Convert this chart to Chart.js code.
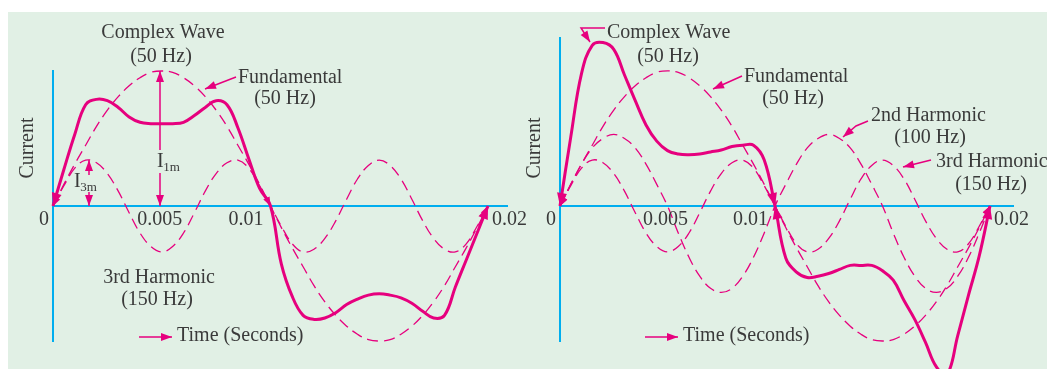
<!DOCTYPE html>
<html>
<head>
<meta charset="utf-8">
<script src="https://cdn.jsdelivr.net/npm/chart.js@4"></script>
<style>
  html, body { margin: 0; padding: 0; background: #fff; }
  #wrap { position: relative; width: 1047px; height: 369px; overflow: hidden; }
  #bg { position: absolute; left: 8px; top: 12px; right: 0; bottom: 0; background: #e1f0e5; }
  canvas { position: absolute; left: 0; top: 0; }
</style>
</head>
<body>
<div id="wrap">
  <div id="bg"></div>
  <canvas id="leftChart" width="1047" height="369"></canvas>
  <canvas id="rightChart" width="1047" height="369"></canvas>
</div>
<script>
// time in seconds, one cycle of 50 Hz
const time = [0, 0.0005, 0.001, 0.0015, 0.002, 0.0025, 0.003, 0.0035, 0.004, 0.0045,
  0.005, 0.0055, 0.006, 0.0065, 0.007, 0.0075, 0.008, 0.0085, 0.009, 0.0095,
  0.01, 0.0105, 0.011, 0.0115, 0.012, 0.0125, 0.013, 0.0135, 0.014, 0.0145,
  0.015, 0.0155, 0.016, 0.0165, 0.017, 0.0175, 0.018, 0.0185, 0.019, 0.0195, 0.02];

// currents (fundamental peak = 1)
const fundamental = [0, 0.16, 0.31, 0.45, 0.59, 0.71, 0.81, 0.89, 0.95, 0.99,
  1.00, 0.99, 0.95, 0.89, 0.81, 0.71, 0.59, 0.45, 0.31, 0.16,
  0, -0.16, -0.31, -0.45, -0.59, -0.71, -0.81, -0.89, -0.95, -0.99,
  -1.00, -0.99, -0.95, -0.89, -0.81, -0.71, -0.59, -0.45, -0.31, -0.16, 0];

const thirdHarmonic = [0, 0.15, 0.28, 0.34, 0.32, 0.24, 0.11, -0.05, -0.20, -0.30,
  -0.34, -0.30, -0.20, -0.05, 0.11, 0.24, 0.32, 0.34, 0.28, 0.15,
  0, -0.15, -0.28, -0.34, -0.32, -0.24, -0.11, 0.05, 0.20, 0.30,
  0.34, 0.30, 0.20, 0.05, -0.11, -0.24, -0.32, -0.34, -0.28, -0.15, 0];

const secondHarmonic = [0, 0.16, 0.31, 0.43, 0.50, 0.53, 0.50, 0.43, 0.31, 0.16,
  0, -0.20, -0.38, -0.52, -0.61, -0.64, -0.61, -0.52, -0.38, -0.20,
  0, 0.16, 0.31, 0.43, 0.50, 0.53, 0.50, 0.43, 0.31, 0.16,
  0, -0.20, -0.38, -0.52, -0.61, -0.64, -0.61, -0.52, -0.38, -0.20, 0];

const complexOdd = [0, 0.27, 0.53, 0.75, 0.79, 0.78, 0.73, 0.66, 0.62, 0.61,
  0.61, 0.61, 0.62, 0.67, 0.73, 0.78, 0.75, 0.58, 0.35, 0.13,
  0, -0.43, -0.67, -0.81, -0.84, -0.83, -0.79, -0.73, -0.69, -0.66,
  -0.65, -0.66, -0.68, -0.72, -0.78, -0.83, -0.81, -0.60, -0.40, -0.20, 0];

const complexEven = [0, 0.51, 0.98, 1.19, 1.21, 1.16, 0.97, 0.78, 0.60, 0.48,
  0.41, 0.385, 0.38, 0.385, 0.40, 0.415, 0.44, 0.45, 0.45, 0.34,
  0, -0.385, -0.49, -0.53, -0.52, -0.50, -0.47, -0.44, -0.44, -0.44,
  -0.48, -0.55, -0.70, -0.84, -1.01, -1.19, -1.25, -0.96, -0.66, -0.37, 0];

const tickValues = [0, 0.005, 0.01, 0.02];
const tickLabels = ['0', '0.005', '0.01', '0.02'];

const BLUE = '#00aeef';
const MAG = '#e6007e';
const INK = '#3a3a3a';
const SERIF = '"Liberation Serif", "DejaVu Serif", serif';

function pts(arr) {
  return time.map((t, i) => ({ x: t, y: arr[i] }));
}

function solid(label, arr) {
  return { label, data: pts(arr), borderColor: MAG, borderWidth: 3, pointRadius: 0,
    tension: 0.4, clip: false };
}
function dashed(label, arr) {
  return { label, data: pts(arr), borderColor: MAG, borderWidth: 1.3, borderDash: [11, 6],
    pointRadius: 0, tension: 0.4, clip: false };
}

function head(ctx, tx, ty, fx, fy, len, half) {
  const a = Math.atan2(ty - fy, tx - fx);
  ctx.beginPath();
  ctx.moveTo(tx, ty);
  ctx.lineTo(tx - len * Math.cos(a) + half * Math.sin(a), ty - len * Math.sin(a) - half * Math.cos(a));
  ctx.lineTo(tx - len * Math.cos(a) - half * Math.sin(a), ty - len * Math.sin(a) + half * Math.cos(a));
  ctx.closePath();
  ctx.fill();
}

// tick label placement relative to the tick value
const tickPlace = [['right', -4], ['center', -2], ['right', -7], ['left', 4]];

function annotate(spec) {
  return {
    id: 'annotate',
    afterDatasetsDraw(chart) {
      const ctx = chart.ctx;
      const xs = chart.scales.x, ys = chart.scales.y;
      ctx.save();
      ctx.fillStyle = MAG;
      ctx.strokeStyle = MAG;
      ctx.lineWidth = 1.5;
      ctx.setLineDash([]);

      // arrowheads on the curves
      spec.curveArrows.forEach(([di, pi, qi, big]) => {
        const pts = chart.getDatasetMeta(di).data;
        const p = pts[pi], q = pts[qi];
        if (big) head(ctx, p.x, p.y, q.x, q.y, 13, 5);
        else head(ctx, p.x, p.y, q.x, q.y, 9, 3.5);
      });

      // pointer lines
      spec.pointers.forEach(line => {
        ctx.beginPath();
        ctx.moveTo(line[0][0], line[0][1]);
        for (let i = 1; i < line.length; i++) ctx.lineTo(line[i][0], line[i][1]);
        ctx.stroke();
        const n = line.length;
        head(ctx, line[n - 1][0], line[n - 1][1], line[n - 2][0], line[n - 2][1], 11, 4);
      });

      // text
      ctx.fillStyle = INK;
      ctx.textBaseline = 'alphabetic';
      ctx.font = '20px ' + SERIF;
      spec.texts.forEach(([s, x, y, al]) => {
        ctx.textAlign = al;
        ctx.fillText(s, x, y);
      });

      // tick labels on the time axis
      const base = ys.getPixelForValue(0) + 19;
      tickValues.forEach((v, i) => {
        ctx.textAlign = tickPlace[i][0];
        ctx.fillText(tickLabels[i], xs.getPixelForValue(v) + tickPlace[i][1], base);
      });

      // subscripted amplitude labels
      (spec.subs || []).forEach(([main, sub, x, y]) => {
        ctx.font = '20px ' + SERIF;
        ctx.textAlign = 'left';
        ctx.fillText(main, x, y);
        const w = ctx.measureText(main).width;
        ctx.font = '13px ' + SERIF;
        ctx.fillText(sub, x + w - 0.5, y + 4);
      });

      // y axis title
      ctx.font = '20px ' + SERIF;
      ctx.save();
      ctx.translate(spec.current[0], spec.current[1]);
      ctx.rotate(-Math.PI / 2);
      ctx.textAlign = 'center';
      ctx.textBaseline = 'middle';
      ctx.fillText('Current', 0, 0);
      ctx.restore();

      ctx.restore();
    }
  };
}

function axes(xMax, yMax, pad) {
  return {
    responsive: false,
    animation: false,
    devicePixelRatio: 1,
    layout: { padding: pad },
    plugins: { legend: { display: false }, tooltip: { enabled: false } },
    scales: {
      x: {
        type: 'linear', min: 0, max: xMax, position: { y: 0 },
        grid: { display: false, drawTicks: false },
        ticks: { display: false },
        border: { color: BLUE, width: 2 }
      },
      y: {
        type: 'linear', min: -1, max: yMax, position: 'left',
        grid: { display: false, drawTicks: false },
        ticks: { display: false },
        border: { color: BLUE, width: 2 }
      }
    }
  };
}

new Chart(document.getElementById('leftChart'), {
  type: 'line',
  data: {
    datasets: [
      solid('Complex Wave (50 Hz)', complexOdd),
      dashed('Fundamental (50 Hz)', fundamental),
      dashed('3rd Harmonic (150 Hz)', thirdHarmonic)
    ]
  },
  options: axes(0.020874, 1, { left: 53, right: 540, top: 71, bottom: 28 }),
  plugins: [annotate({
    texts: [
      ['Complex Wave', 163, 38, 'center'],
      ['(50 Hz)', 161, 62, 'center'],
      ['Fundamental', 238, 83, 'left'],
      ['(50 Hz)', 285, 104, 'center'],
      ['3rd Harmonic', 159, 283, 'center'],
      ['(150 Hz)', 157, 305, 'center'],
      ['Time (Seconds)', 177, 341, 'left']
    ],
    subs: [['I', '1m', 157, 167], ['I', '3m', 74, 187]],
    current: [28, 148],
    pointers: [
      [[236, 77], [205, 89]],
      [[139, 337], [172, 337]],
      [[160, 150], [160, 71]],
      [[160, 173], [160, 206]],
      [[89, 175], [89, 160]],
      [[89, 192], [89, 206]]
    ],
    curveArrows: [[0, 0, 1, true], [1, 0, 1], [1, 20, 19], [0, 40, 39, true], [1, 40, 39]]
  })]
});

new Chart(document.getElementById('rightChart'), {
  type: 'line',
  data: {
    datasets: [
      solid('Complex Wave (50 Hz)', complexEven),
      dashed('Fundamental (50 Hz)', fundamental),
      dashed('2nd Harmonic (100 Hz)', secondHarmonic),
      dashed('3rd Harmonic (150 Hz)', thirdHarmonic)
    ]
  },
  options: axes(0.02107, 1.244, { left: 560, right: 34, top: 38, bottom: 28 }),
  plugins: [annotate({
    texts: [
      ['Complex Wave', 607, 38, 'left'],
      ['(50 Hz)', 668, 62, 'center'],
      ['Fundamental', 744, 82, 'left'],
      ['(50 Hz)', 793, 104, 'center'],
      ['2nd Harmonic', 871, 121, 'left'],
      ['(100 Hz)', 930, 143, 'center'],
      ['3rd Harmonic', 936, 167, 'left'],
      ['(150 Hz)', 991, 190, 'center'],
      ['Time (Seconds)', 683, 341, 'left']
    ],
    current: [535, 148],
    pointers: [
      [[605, 28], [581, 28], [590, 42]],
      [[742, 76], [713, 89]],
      [[868, 121], [856, 126], [843, 137]],
      [[931, 160], [903, 167]],
      [[645, 337], [678, 337]]
    ],
    curveArrows: [[0, 0, 1, true], [1, 0, 1], [2, 0, 1], [3, 0, 1],
      [0, 20, 19, true], [0, 20, 21, true],
      [0, 40, 39, true], [1, 40, 39], [2, 40, 39], [3, 40, 39]]
  })]
});
</script>
</body>
</html>
